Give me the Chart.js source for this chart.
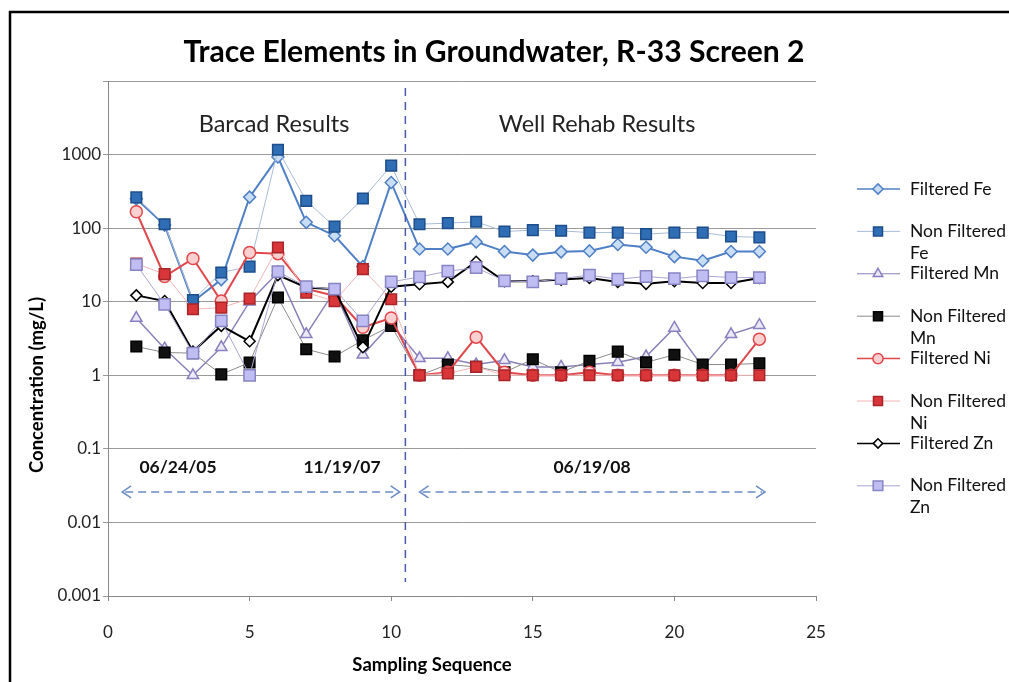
<!DOCTYPE html>
<html><head><meta charset="utf-8">
<script src="https://cdn.jsdelivr.net/npm/chart.js@4.4.0/dist/chart.umd.min.js"></script>
<style>html,body{margin:0;padding:0;background:#fff;overflow:hidden;}#wrap{position:relative;width:1009px;height:682px;}canvas{display:block;}</style>
</head><body><div id="wrap"><canvas id="c" width="1009" height="682"></canvas></div>
<script>
// ---- data ----
const seq = [1,2,3,4,5,6,7,8,9,10,11,12,13,14,15,16,17,18,19,20,21,22,23];
const filteredFe    = [250,110,10,20,264,925,120,79,30,418, 52,52,65,48,43,47.6,49,60,55,41,36,48,48];
const nonFilteredFe = [262,113,10.5,25,30,1162,235,105,253,707, 113,117,122,90,94,92,87,87,83,87,87,77,75];
const filteredMn    = [6,2.3,1.0,2.4,10,25,3.6,14,1.9,5, 1.7,1.7,1.4,1.6,1.3,1.3,1.4,1.5,1.8,4.4,1.3,3.6,4.8];
const nonFilteredMn = [2.46,2.04,2.0,1.03,1.49,11.4,2.26,1.8,3.0,4.7, 1.0,1.4,1.3,1.1,1.65,1.1,1.57,2.1,1.5,1.9,1.4,1.4,1.45];
const filteredNi    = [167,22,38.6,10.2,46.6,45,15,12,4.5,6.0, 1.0,1.1,3.3,1.1,1.0,1.0,1.1,1.0,1.0,1.0,1.0,1.0,3.1];
const nonFilteredNi = [33,23.7,7.9,8.3,11,54.6,13.3,10.2,27.7,10.8, 1.0,1.06,1.3,1.0,1.0,1.0,1.0,1.0,1.0,1.0,1.0,1.0,1.0];
const filteredZn    = [12.2,10.2,2.1,4.7,2.9,23,15.6,14.8,2.4,16, 17.3,18.6,35,19,19,20,21,18.5,17.5,19,18,18,21];
const nonFilteredZn = [32,9.2,2.0,5.5,1.0,25.7,16,14.8,5.5,18.6, 21.7,26,29,19.2,18.6,20.6,23,20.2,22,20.6,22.4,21.3,21.3];
const seriesNames = ['Filtered Fe','Non Filtered Fe','Filtered Mn','Non Filtered Mn','Filtered Ni','Non Filtered Ni','Filtered Zn','Non Filtered Zn'];
const yTickValues = [0.001,0.01,0.1,1,10,100,1000,10000];
const yTickLabels = ['0.001','0.01','0.1','1','10','100','1000',''];
const xTickStep = 5;
const titleText = 'Trace Elements in Groundwater, R-33 Screen 2';
const xTitle = 'Sampling Sequence';
const yTitle = 'Concentration (mg/L)';
const sectionLabels = ['Barcad Results','Well Rehab Results'];
const dateLabels = ['06/24/05','11/19/07','06/19/08'];

// ---- styles ----
const FONT = 'Lato, "Open Sans", sans-serif';
const styles = [
  {line:'#4f7fc4', lw:2,   ps:'rectRot', r:6,   fill:'#c9def5', stroke:'#4f7fc4'},
  {line:'#a8bcd8', lw:1,   ps:'rect',    r:7.5, fill:'#2f6db5', stroke:'#1d4d8a'},
  {line:'#8a80b8', lw:1.5, ps:'triangle',r:6.5, fill:'#ece9f7', stroke:'#8a80c0'},
  {line:'#8c8c8c', lw:1,   ps:'rect',    r:7.5, fill:'#111111', stroke:'#000000'},
  {line:'#e0474c', lw:2,   ps:'circle',  r:6,   fill:'#fbd0d0', stroke:'#e0474c'},
  {line:'#f2b5b5', lw:1,   ps:'rect',    r:7.5, fill:'#d9363a', stroke:'#a82428'},
  {line:'#000000', lw:2,   ps:'rectRot', r:5.5, fill:'#ffffff', stroke:'#000000'},
  {line:'#a9a6d2', lw:1,   ps:'rect',    r:8,   fill:'#c0bdf2', stroke:'#8884c4'}
];
const allSeries = [filteredFe,nonFilteredFe,filteredMn,nonFilteredMn,filteredNi,nonFilteredNi,filteredZn,nonFilteredZn];
const datasets = allSeries.map((arr,i)=>({
  label: seriesNames[i],
  data: seq.map((x,j)=>({x:x,y:arr[j]})),
  borderColor: styles[i].line, borderWidth: styles[i].lw,
  pointStyle: styles[i].ps, pointRadius: styles[i].r,
  pointBackgroundColor: styles[i].fill, pointBorderColor: styles[i].stroke,
  pointBorderWidth: 1.5, tension: 0, order: 20 - i, fill:false
}));

function wrapText(ctx, text, maxW){
  const words = text.split(' '); const lines=[]; let cur='';
  words.forEach(w=>{ const t = cur? cur+' '+w : w; if (ctx.measureText(t).width > maxW && cur){ lines.push(cur); cur=w; } else cur=t; });
  if (cur) lines.push(cur); return lines;
}

const overlay = {
  id:'overlay',
  afterDraw(chart){
    const ctx = chart.ctx, xs = chart.scales.x, ys = chart.scales.y;
    ctx.save();
    // frame (left and top edges visible)
    ctx.strokeStyle='#000'; ctx.lineWidth=2.5;
    ctx.beginPath(); ctx.moveTo(10,700); ctx.lineTo(10,12); ctx.lineTo(1030,12); ctx.stroke();
    // title
    ctx.fillStyle='#000'; ctx.textAlign='center'; ctx.textBaseline='middle';
    ctx.font='bold 100px '+FONT;
    const tw = ctx.measureText(titleText).width;
    const ts = 100*622/tw;
    ctx.font='bold '+ts.toFixed(1)+'px '+FONT;
    ctx.fillText(titleText, 494, 52);
    // section labels
    ctx.fillStyle='#222'; ctx.font='23.5px '+FONT;
    ctx.fillText(sectionLabels[0], 274, 124);
    ctx.fillText(sectionLabels[1], 597, 124);
    // date labels
    ctx.font='bold 17.5px '+FONT; ctx.fillStyle='#111';
    ctx.fillText(dateLabels[0], 178, 467);
    ctx.fillText(dateLabels[1], 342, 467);
    ctx.fillText(dateLabels[2], 592, 467);
    // vertical divider
    const vx = xs.getPixelForValue(10.5);
    ctx.strokeStyle='#4a5aa8'; ctx.lineWidth=1.5; ctx.setLineDash([8,6]);
    ctx.beginPath(); ctx.moveTo(vx,88); ctx.lineTo(vx,582); ctx.stroke();
    // arrows
    const ay = ys.getPixelForValue(0.026);
    function arrow(x1,x2){
      ctx.strokeStyle='#6b8cc4'; ctx.lineWidth=1.5; ctx.setLineDash([8,5]);
      ctx.beginPath(); ctx.moveTo(x1+3,ay); ctx.lineTo(x2-3,ay); ctx.stroke();
      ctx.setLineDash([]);
      ctx.beginPath(); ctx.moveTo(x1+9,ay-6); ctx.lineTo(x1,ay); ctx.lineTo(x1+9,ay+6); ctx.stroke();
      ctx.beginPath(); ctx.moveTo(x2-9,ay-6); ctx.lineTo(x2,ay); ctx.lineTo(x2-9,ay+6); ctx.stroke();
    }
    arrow(xs.getPixelForValue(0.5), xs.getPixelForValue(10.3));
    arrow(xs.getPixelForValue(11.0), xs.getPixelForValue(23.2));
    ctx.setLineDash([]);
    // axis titles
    ctx.fillStyle='#000'; ctx.font='bold 18.5px '+FONT;
    ctx.fillText(xTitle, 432, 665);
    ctx.save(); ctx.translate(37,385); ctx.rotate(-Math.PI/2); ctx.fillText(yTitle,0,0); ctx.restore();
    // legend
    ctx.font='17.5px '+FONT; ctx.textAlign='left';
    seriesNames.forEach((name,i)=>{
      const y = 189 + i*42.4; const st = styles[i];
      ctx.strokeStyle=st.line; ctx.lineWidth=Math.max(1,st.lw*0.75);
      ctx.beginPath(); ctx.moveTo(857,y); ctx.lineTo(900,y); ctx.stroke();
      ctx.fillStyle=st.fill; ctx.strokeStyle=st.stroke; ctx.lineWidth=1.5;
      Chart.helpers.drawPoint(ctx,{pointStyle:st.ps, radius:st.r*0.85, rotation:0, borderWidth:1.5}, 878, y);
      ctx.fillStyle='#111';
      const lines = wrapText(ctx, name, 100);
      lines.forEach((l,k)=>ctx.fillText(l, 910, y + k*22));
    });
    ctx.restore();
  }
};

function build(){
new Chart(document.getElementById('c'), {
  type:'line',
  data:{datasets:datasets},
  options:{
    responsive:false, animation:false,
    layout:{padding:{left:0,right:193,top:81,bottom:0}},
    plugins:{legend:{display:false}, title:{display:false}, tooltip:{enabled:false}},
    scales:{
      x:{type:'linear', min:0, max:25,
         ticks:{stepSize:xTickStep, font:{family:FONT,size:17}, color:'#222', padding:21, maxRotation:0},
         grid:{display:true, drawOnChartArea:false, tickLength:5, color:'#888'},
         border:{color:'#888', width:1},
         afterFit(s){ s.height = 86; }},
      y:{type:'logarithmic', min:0.001, max:10000,
         afterBuildTicks(s){ s.ticks = yTickValues.map(v=>({value:v, major:true})); },
         ticks:{autoSkip:false, callback:(v,i)=>yTickLabels[i], font:{family:FONT,size:17}, color:'#222', padding:2},
         grid:{color:'#9a9a9a', tickLength:5, lineWidth:1},
         border:{color:'#888', width:1},
         afterFit(s){ s.width = 108; }}
    }
  },
  plugins:[overlay]
});
}
Promise.all([document.fonts.load('16px Lato'),document.fonts.load('bold 16px Lato')]).then(build,build);
</script></body></html>
